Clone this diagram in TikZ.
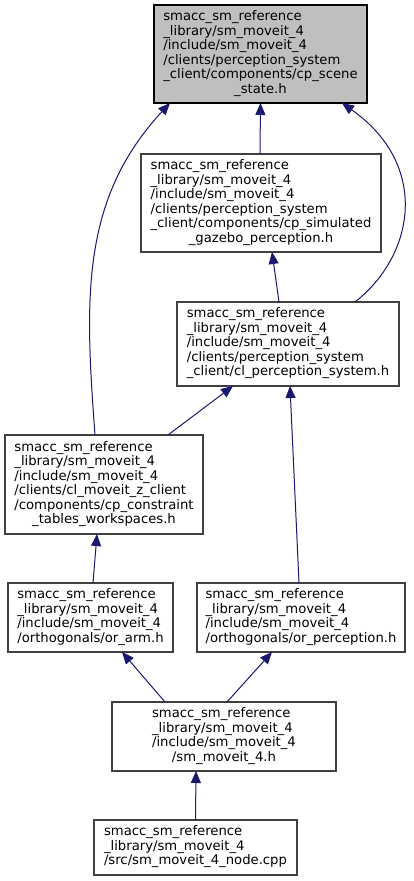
\documentclass[tikz,border=0pt]{standalone}
\usepackage{fontspec}
\setmainfont{DejaVu Sans}
\usetikzlibrary{arrows.meta}
\definecolor{edgeblue}{HTML}{191970}
\definecolor{rootfill}{HTML}{BFBFBF}
\definecolor{boxline}{HTML}{404040}
\newcommand{\blines}[2]{\begin{tabular}{@{}l@{}}#1\\\multicolumn{1}{@{}c@{}}{#2}\end{tabular}}
\begin{document}
\begin{tikzpicture}[x=1pt,y=-1pt,
  filebox/.style={draw=boxline, line width=1.1pt, fill=white, inner sep=0pt, outer sep=0pt,
    font=\fontsize{13.2}{14.5}\selectfont, align=center},
  rootbox/.style={filebox, draw=black, fill=rootfill},
  edge/.style={draw=edgeblue, line width=1pt, -{Triangle[length=12pt,width=10pt]}}]
\useasboundingbox (0,0) rectangle (413,881);
\fill[white] (0,0) rectangle (413,881);

\node[rootbox, minimum width=213pt, minimum height=98pt] (A) at (260.5,54)
  {\blines{smacc\_sm\_reference\\\_library/sm\_moveit\_4\\/include/sm\_moveit\_4\\/clients/perception\_system\\\_client/components/cp\_scene}{\_state.h}};
\node[filebox, minimum width=240pt, minimum height=98pt] (B) at (261,203)
  {\blines{smacc\_sm\_reference\\\_library/sm\_moveit\_4\\/include/sm\_moveit\_4\\/clients/perception\_system\\\_client/components/cp\_simulated}{\_gazebo\_perception.h}};
\node[filebox, minimum width=222pt, minimum height=84pt] (C) at (288,344)
  {\begin{tabular}{@{}l@{}}smacc\_sm\_reference\\\_library/sm\_moveit\_4\\/include/sm\_moveit\_4\\/clients/perception\_system\\\_client/cl\_perception\_system.h\end{tabular}};
\node[filebox, minimum width=198pt, minimum height=99pt] (D) at (104,484.5)
  {\blines{smacc\_sm\_reference\\\_library/sm\_moveit\_4\\/include/sm\_moveit\_4\\/clients/cl\_moveit\_z\_client\\/components/cp\_constraint}{\_tables\_workspaces.h}};
\node[filebox, minimum width=165pt, minimum height=69pt] (E) at (90.5,617.5)
  {\begin{tabular}{@{}l@{}}smacc\_sm\_reference\\\_library/sm\_moveit\_4\\/include/sm\_moveit\_4\\/orthogonals/or\_arm.h\end{tabular}};
\node[filebox, minimum width=208pt, minimum height=69pt] (F) at (301,617.5)
  {\begin{tabular}{@{}l@{}}smacc\_sm\_reference\\\_library/sm\_moveit\_4\\/include/sm\_moveit\_4\\/orthogonals/or\_perception.h\end{tabular}};
\node[filebox, minimum width=224pt, minimum height=69pt] (G) at (224,736.5)
  {\blines{smacc\_sm\_reference\\\_library/sm\_moveit\_4\\/include/sm\_moveit\_4}{/sm\_moveit\_4.h}};
\node[filebox, minimum width=203pt, minimum height=55pt] (H) at (195.5,847.5)
  {\begin{tabular}{@{}l@{}}smacc\_sm\_reference\\\_library/sm\_moveit\_4\\/src/sm\_moveit\_4\_node.cpp\end{tabular}};

\draw[edge] ([xshift=-1pt]B.north) -- (A.south);
\draw[edge] ([xshift=67pt]C.north) .. controls (415,255) and (430,165) .. ([xshift=81.5pt]A.south);
\draw[edge] ([xshift=-9pt]D.north) .. controls (85,300) and (80,200) .. ([xshift=-90.5pt]A.south);
\draw[edge] ([xshift=-9pt]C.north) -- ([xshift=11pt]B.south);
\draw[edge] ([xshift=64pt]D.north) -- ([xshift=-55pt]C.south);
\draw[edge] ([xshift=-2pt]F.north) -- ([xshift=2pt]C.south);
\draw[edge] ([xshift=2.5pt]E.north) -- ([xshift=-7pt]D.south);
\draw[edge] ([xshift=-59pt]G.north) -- ([xshift=31.5pt]E.south);
\draw[edge] ([xshift=3pt]G.north) -- ([xshift=-29pt]F.south);
\draw[edge] (H.north) -- ([xshift=-28pt]G.south);
\end{tikzpicture}
\end{document}
